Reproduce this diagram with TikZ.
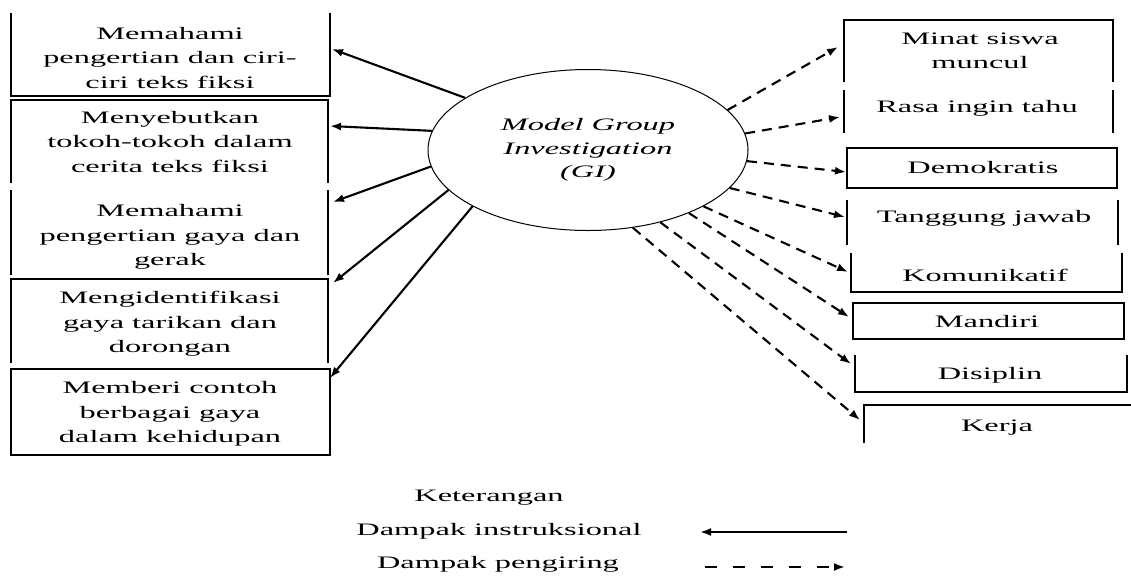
\documentclass[tikz,border=0pt]{standalone}
\usepackage{fontspec}
\setmainfont[FakeStretch=1.85]{Liberation Serif}
\usepackage{tikz}
\usetikzlibrary{shapes.geometric, arrows.meta, positioning}

\begin{document}
\begin{tikzpicture}[
    x=1pt, y=-1pt,
    txt/.style={font=\fontsize{17.5}{24.5}\selectfont, align=center, inner sep=0pt},
    frame/.style={line width=1.4pt},
    instr/.style={line width=2.1pt, -{Latex[length=11pt, width=8pt]}},
    iring/.style={line width=2.1pt, dash pattern=on 10pt off 7pt, -{Latex[length=11pt, width=8pt]}}
]
\useasboundingbox (0,0) rectangle (1131,576);

% model pembelajaran
\node[ellipse, draw, line width=1pt, minimum width=320pt, minimum height=161pt, txt,
      font=\fontsize{17.5}{23.5}\selectfont\itshape] (gi) at (588,150) {Model Group\\Investigation\\(GI)};

% dampak instruksional (kiri)
\node[txt] (m1) at (170,58) {Memahami\\pengertian dan ciri-\\ciri teks fiksi};
\draw[frame] (11,13) -- (11,96) -- (330,96) -- (330,13);

\node[txt] (m2) at (170,142) {Menyebutkan\\tokoh-tokoh dalam\\cerita teks fiksi};
\draw[frame] (11,183) -- (11,100) -- (328,100) -- (328,183);

\node[txt] (m3) at (170,237) {Memahami\\pengertian gaya dan\\gerak};
\draw[frame] (11,190) -- (11,275) (328,190) -- (328,275);

\node[txt] (m4) at (170,324) {Mengidentifikasi\\gaya tarikan dan\\dorongan};
\draw[frame] (11,363) -- (11,279) -- (328,279) -- (328,363);

\node[txt] (m5) at (170,414) {Memberi contoh\\berbagai gaya\\dalam kehidupan};
\draw[frame] (11,369) rectangle (330,455);

% dampak pengiring (kanan)
\node[txt] (k1) at (980,51) {Minat siswa\\muncul};
\draw[frame] (844,82) -- (844,20) -- (1113,20) -- (1113,82);

\node[txt] (k2) at (977,108) {Rasa ingin tahu};
\draw[frame] (844,90) -- (844,133) (1113,90) -- (1113,133);

\node[txt] (k3) at (983,168) {Demokratis};
\draw[frame] (847,148) rectangle (1117,188);

\node[txt] (k4) at (984,218) {Tanggung jawab};
\draw[frame] (847,200) -- (847,245) (1118,200) -- (1118,245);

\node[txt] (k5) at (985,275) {Komunikatif};
\draw[frame] (851,253) -- (851,292) -- (1122,292) -- (1122,253);

\node[txt] (k6) at (987,322) {Mandiri};
\draw[frame] (853,303) rectangle (1124,339);

\node[txt] (k7) at (990,375) {Disiplin};
\draw[frame] (855,355) -- (855,392) -- (1127,392) -- (1127,355);

\node[txt] (k8) at (997,428) {Kerja};
\draw[frame] (864,443) -- (864,405) -- (1131,405);

% ujung panah
\coordinate (a1) at (332,49);
\coordinate (a2) at (330,126);
\coordinate (a3) at (333,202);
\coordinate (a4) at (333,283);
\coordinate (a5) at (330,378);
\coordinate (b1) at (838,47);
\coordinate (b2) at (840,117);
\coordinate (b3) at (846,172);
\coordinate (b4) at (845,217);
\coordinate (b5) at (848,272);
\coordinate (b6) at (849,317);
\coordinate (b7) at (851,364);
\coordinate (b8) at (860,420);

\draw[instr] (gi.157) -- (a1);
\draw[instr] (gi.173.6) -- (a2);
\draw[instr] (gi.186.4) -- (a3);
\draw[instr] (gi.196.6) -- (a4);
\draw[instr] (gi.206.6) -- (a5);

\draw[iring] (gi.16.8) -- (b1);
\draw[iring] (gi.6.1) -- (b2);
\draw[iring] (gi.356.4) -- (b3);
\draw[iring] (gi.345.7) -- (b4);
\draw[iring] (gi.334.6) -- (b5);
\draw[iring] (gi.328.3) -- (b6);
\draw[iring] (gi.315.8) -- (b7);
\draw[iring] (gi.300) -- (b8);

% keterangan
\node[txt] (ket) at (489,498) {Keterangan};
\node[txt] (di) at (499,531) {Dampak instruksional};
\node[txt] (dp) at (498,564) {Dampak pengiring};
\coordinate (s1) at (847,532);
\coordinate (s0) at (700,532);
\coordinate (p0) at (705,567);
\coordinate (p1) at (845,567);
\draw[instr] (s1) -- (s0);
\draw[iring, dash pattern=on 12pt off 16pt] (p0) -- (p1);

\end{tikzpicture}
\end{document}
